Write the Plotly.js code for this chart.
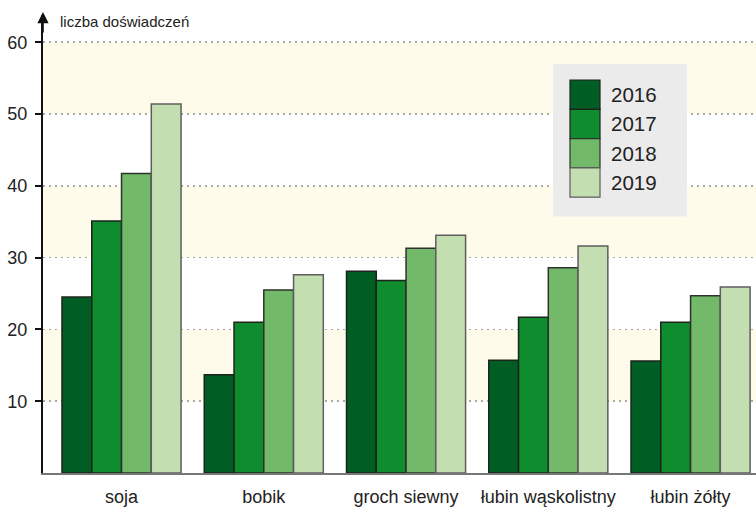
<!DOCTYPE html>
<html>
<head>
<meta charset="utf-8">
<script src="https://cdn.plot.ly/plotly-3.0.1.min.js"></script>
<style>html,body{margin:0;padding:0;background:#fff;}#chart{width:756px;height:508px;}</style>
</head>
<body>
<div id="chart"></div>
<script>
// ---- data ----
const categories = ["soja", "bobik", "groch siewny", "łubin wąskolistny", "łubin żółty"];
const years = ["2016", "2017", "2018", "2019"];
const values2016 = [24.5, 13.7, 28.1, 15.7, 15.6];
const values2017 = [35.1, 21.0, 26.8, 21.7, 21.0];
const values2018 = [41.7, 25.5, 31.3, 28.6, 24.7];
const values2019 = [51.4, 27.6, 33.1, 31.6, 25.9];
const yTickVals = [10, 20, 30, 40, 50, 60];
const bandRanges = [[10, 20], [30, 40], [50, 60]];
const yTitle = "liczba doświadczeń";

// ---- style ----
const seriesValues = [values2016, values2017, values2018, values2019];
const fillColors = ["#005e24", "#0f8c2e", "#73b96a", "#c3dfb1"];
const lineColors = ["#1c231d", "#1c231d", "#2c332c", "#5e5e5e"];
const FONT = "'Liberation Sans', Arial, sans-serif";
const W = 756, H = 508, ML = 43, MR = 0, MT = 15, MB = 35;
const PW = W - ML - MR, PH = H - MT - MB;
const px = x => (x - ML) / PW;
const py = y => (H - MB - y) / PH;

const traces = years.map((yr, i) => ({
  type: "bar",
  name: yr,
  x: categories,
  y: seriesValues[i],
  marker: {color: fillColors[i], line: {color: lineColors[i], width: 1.5}},
  showlegend: false,
  hoverinfo: "x+y+name"
}));

const shapes = bandRanges.map(r => ({
  type: "rect", xref: "paper", yref: "y", x0: 0, x1: 1, y0: r[0], y1: r[1],
  fillcolor: "#fffbeb", line: {width: 0}, layer: "below"
}));

// custom legend
shapes.push({type: "rect", xref: "paper", yref: "paper",
  x0: px(553), x1: px(687), y0: py(216.5), y1: py(64),
  fillcolor: "#ebebeb", line: {width: 0}, layer: "above"});
const swTop = 80, swH = 29.3;
const annotations = [];
years.forEach((yr, i) => {
  const t = swTop + i * swH;
  shapes.push({type: "rect", xref: "paper", yref: "paper",
    x0: px(570), x1: px(600), y0: py(t + swH), y1: py(t),
    fillcolor: fillColors[i], line: {color: lineColors[i], width: 1.2}, layer: "above"});
  annotations.push({xref: "paper", yref: "paper", x: px(609), y: py(t + swH / 2),
    xanchor: "left", yanchor: "middle", text: yr, showarrow: false,
    font: {family: FONT, size: 20.5, color: "#222"}});
});

annotations.push({xref: "paper", yref: "paper", x: px(58), y: py(22),
  xanchor: "left", yanchor: "middle", text: yTitle, showarrow: false,
  font: {family: FONT, size: 15, color: "#222"}});
annotations.push({xref: "paper", yref: "paper", x: 0, y: py(12), text: "",
  showarrow: true, ax: 0, ay: 22, axref: "pixel", ayref: "pixel",
  arrowhead: 2, arrowsize: 1.4, arrowwidth: 1.6, arrowcolor: "#111"});

const layout = {
  width: W, height: H,
  margin: {l: ML, r: MR, t: MT, b: MB, pad: 0},
  paper_bgcolor: "#ffffff", plot_bgcolor: "#ffffff",
  font: {family: FONT, color: "#222"},
  barmode: "group", bargap: 0.163, bargroupgap: 0,
  showlegend: false,
  xaxis: {type: "category", range: [-0.552, 4.46], showline: true, linecolor: "#777",
    linewidth: 2, ticks: "", showgrid: false, zeroline: false, tickangle: 0,
    tickfont: {family: FONT, size: 18, color: "#222"}, ticklabelstandoff: 6},
  yaxis: {range: [0, PH / 7.18], showline: true, linecolor: "#111", linewidth: 2,
    ticks: "outside", ticklen: 6, tickwidth: 2, tickcolor: "#111",
    tickmode: "array", tickvals: yTickVals, ticktext: yTickVals.map(String),
    showgrid: true, gridcolor: "#a8a8a8", gridwidth: 1.5, griddash: "2px,4px",
    zeroline: false, tickfont: {family: FONT, size: 18, color: "#222"}, ticklabelstandoff: 4},
  shapes: shapes,
  annotations: annotations
};

Plotly.newPlot("chart", traces, layout, {displayModeBar: false, staticPlot: true});
</script>
</body>
</html>
